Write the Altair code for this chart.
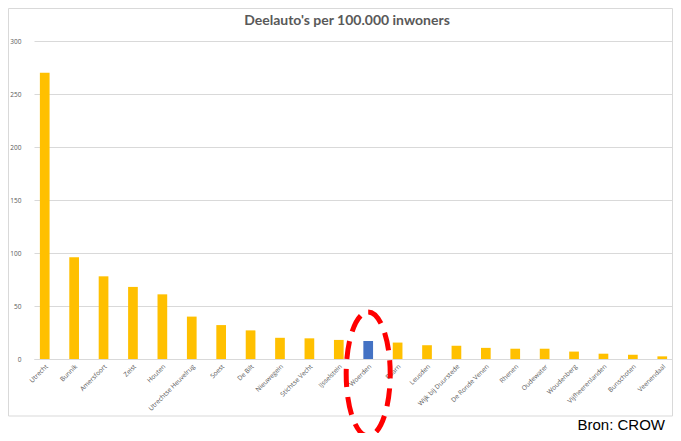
import altair as alt
import pandas as pd

gemeenten = ["Utrecht", "Bunnik", "Amersfoort", "Zeist", "Houten", "Utrechtse Heuvelrug",
             "Soest", "De Bilt", "Nieuwegein", "Stichtse Vecht", "IJsselstein", "Woerden",
             "Baarn", "Leusden", "Wijk bij Duurstede", "De Ronde Venen", "Rhenen",
             "Oudewater", "Woudenberg", "Vijfheerenlanden", "Bunschoten", "Veenendaal"]
waarden = [270, 96, 78, 68, 61, 40, 32, 27, 20, 19.5, 18, 17, 15.5, 13, 12.5, 10.5,
           9.7, 9.7, 7, 5, 4, 2.5]
highlight = "Woerden"
titel = "Deelauto's per 100.000 inwoners"
bron = "Bron: CROW"
y_ticks = [0, 50, 100, 150, 200, 250, 300]

df = pd.DataFrame({"gemeente": gemeenten, "waarde": waarden})

xenc = alt.X("gemeente:N", sort=gemeenten,
             scale=alt.Scale(paddingInner=0.67, paddingOuter=0.2),
             axis=alt.Axis(title=None, labelAngle=-45, labelFontSize=6.5,
                           labelColor="#595959", ticks=False, domainColor="#D9D9D9",
                           labelPadding=4, labelFont="Open Sans"))

bars = alt.Chart(df).mark_bar().encode(
    x=xenc,
    y=alt.Y("waarde:Q", scale=alt.Scale(domain=[0, 300], nice=False),
            axis=alt.Axis(title=None, values=y_ticks, gridColor="#D9D9D9",
                          domain=False, ticks=False, labelFontSize=6.5,
                          labelColor="#595959", labelPadding=13, labelFont="Open Sans")),
    color=alt.condition(alt.datum.gemeente == highlight, alt.value("#4472C4"),
                        alt.value("#FFC000")),
)

frame = alt.Chart(alt.Data(values=[{"a": 1}])).mark_rect(
    fill=None, stroke="#D9D9D9", strokeWidth=1
).encode(x=alt.value(-25.5), x2=alt.value(638.5), y=alt.value(-32.5), y2=alt.value(375))

ellipse_path = "M0,-1 A0.355,1 0 1,1 0,1 A0.355,1 0 1,1 0,-1 Z"
ellipse = alt.Chart(pd.DataFrame({"gemeente": [highlight]})).mark_point(
    shape=ellipse_path, size=15376, filled=False, stroke="#FF0000", strokeWidth=5,
    strokeDash=[18, 10], opacity=1
).encode(x=alt.X("gemeente:N", sort=gemeenten), y=alt.value(333))

source = alt.Chart(alt.Data(values=[{"t": bron}])).mark_text(
    align="right", baseline="alphabetic", fontSize=15, font="Liberation Sans",
    color="#000000"
).encode(x=alt.value(631), y=alt.value(389), text="t:N")

title = alt.Chart(alt.Data(values=[{"t": titel}])).mark_text(
    align="center", baseline="middle", fontSize=14, font="Lato", fontWeight="bold",
    color="#595959"
).encode(x=alt.value(313), y=alt.value(-20), text="t:N")

chart = alt.layer(frame, bars, ellipse, source, title).properties(
    width=639, height=318, autosize="none",
    padding={"left": 26, "top": 33, "right": 0, "bottom": 74},
).configure_view(stroke=None)

chart.save("out.html", embed_options={"renderer": "svg", "actions": False})
